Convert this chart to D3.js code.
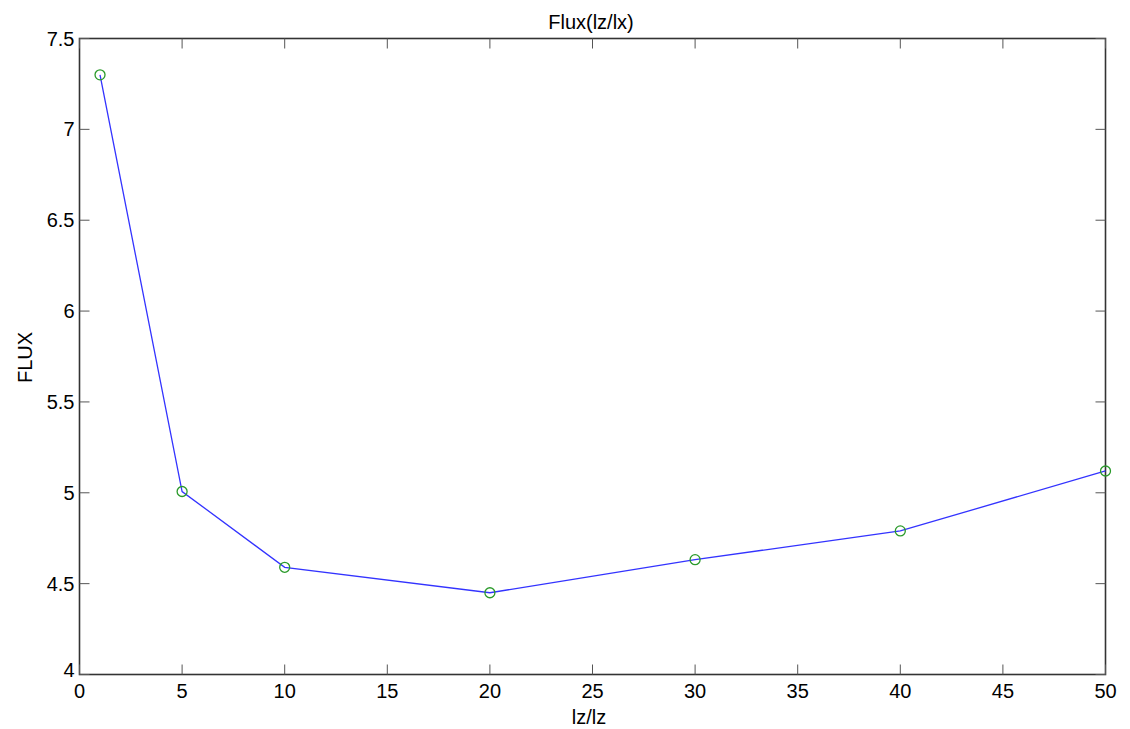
<!DOCTYPE html>
<html><head><meta charset="utf-8">
<script src="https://cdn.jsdelivr.net/npm/d3@7"></script>
<style>body{margin:0;background:#fff;}svg{display:block;font-family:"Liberation Sans",Arial,sans-serif;}</style>
</head><body>
<svg id="c" width="1130" height="729"></svg>
<script>
const xValues = [1, 5, 10, 20, 30, 40, 50];
const fluxValues = [7.30, 5.007, 4.59, 4.45, 4.632, 4.79, 5.12];
const xTicks = [0, 5, 10, 15, 20, 25, 30, 35, 40, 45, 50];
const yTicks = [4, 4.5, 5, 5.5, 6, 6.5, 7, 7.5];
const titleText = "Flux(lz/lx)";
const xLabel = "lz/lz";
const yLabel = "FLUX";

const svg = d3.select("#c");
const L = 79.5, R = 1105.5, T = 38.5, B = 674.5;
const x = d3.scaleLinear().domain([0, 50]).range([L, R]);
const y = d3.scaleLinear().domain([4, 7.5]).range([B, T]);
const tickLen = 10;
const fmt = d => String(d);

// box
svg.append("rect").attr("x", L).attr("y", T).attr("width", R - L).attr("height", B - T)
  .attr("fill", "none").attr("stroke", "#333").attr("stroke-width", 1.6);

// ticks inward on all sides
const g = svg.append("g");
xTicks.forEach(t => {
  g.append("line").attr("x1", x(t)).attr("x2", x(t)).attr("y1", B).attr("y2", B - tickLen).attr("stroke", "#555");
  g.append("line").attr("x1", x(t)).attr("x2", x(t)).attr("y1", T).attr("y2", T + tickLen).attr("stroke", "#555");
  g.append("text").attr("x", x(t)).attr("y", B + 23.5).attr("text-anchor", "middle")
    .attr("font-size", 20).attr("fill", "#000").text(fmt(t));
});
yTicks.forEach(t => {
  g.append("line").attr("x1", L).attr("x2", L + tickLen).attr("y1", y(t)).attr("y2", y(t)).attr("stroke", "#555");
  g.append("line").attr("x1", R).attr("x2", R - tickLen).attr("y1", y(t)).attr("y2", y(t)).attr("stroke", "#555");
  g.append("text").attr("x", L - 5).attr("y", y(t) + (t === 4 ? 2 : 7)).attr("text-anchor", "end")
    .attr("font-size", 20).attr("fill", "#000").text(fmt(t));
});

// labels
svg.append("text").attr("x", 591).attr("y", 28.5).attr("text-anchor", "middle")
  .attr("font-size", 20).text(titleText);
svg.append("text").attr("x", 589).attr("y", 723.5).attr("text-anchor", "middle")
  .attr("font-size", 20).text(xLabel);
svg.append("text").attr("transform", `translate(31.5,357.5) rotate(-90)`).attr("text-anchor", "middle")
  .attr("font-size", 20).text(yLabel);

// line
const data = xValues.map((v, i) => ({ x: v, y: fluxValues[i] }));
svg.append("path").datum(data)
  .attr("d", d3.line().x(d => x(d.x)).y(d => y(d.y)))
  .attr("fill", "none").attr("stroke", "#3333ff").attr("stroke-width", 1.3);
svg.selectAll("circle.m").data(data).enter().append("circle")
  .attr("cx", d => x(d.x)).attr("cy", d => y(d.y)).attr("r", 5)
  .attr("fill", "none").attr("stroke", "#2a9a2a").attr("stroke-width", 1.3);
</script>
</body></html>
